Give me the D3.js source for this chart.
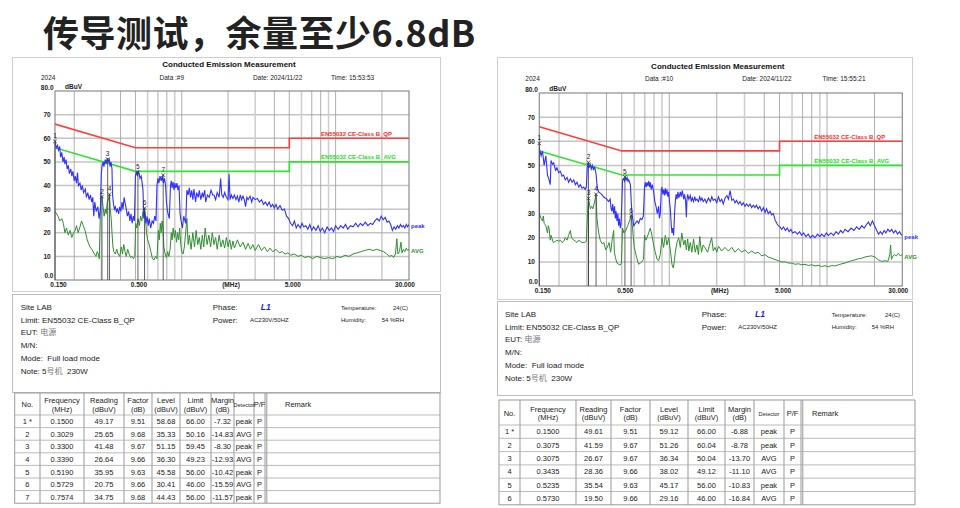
<!DOCTYPE html>
<html><head><meta charset="utf-8">
<script src="https://cdn.jsdelivr.net/npm/d3@7/dist/d3.min.js"></script>
<style>
body{margin:0;background:#fff;}
svg text{font-family:"Liberation Sans",Arial,sans-serif;white-space:pre;}
</style></head><body>
<svg id="chart" width="960" height="508"></svg>
<script>
// ---- data ----
const yTicks = [0, 10, 20, 30, 40, 50, 60, 70, 80];
const yTickLabels = ["0.0", "10", "20", "30", "40", "50", "60", "70", "80.0"];
const xTickFreqs = [0.15, 0.5, 2, 5, 30];
const xTickLabels = ["0.150", "0.500", "(MHz)", "5.000", "30.000"];

const limitQP = [[0.15, 66], [0.5, 56], [5, 56], [5, 60], [30, 60]];
const limitAVG = [[0.15, 56], [0.5, 46], [5, 46], [5, 50], [30, 50]];
const limitNames = ["EN55032 CE-Class B_QP", "EN55032 CE-Class B_AVG"];

const tableHead = [["No.", ""], ["Frequency", "(MHz)"], ["Reading", "(dBuV)"], ["Factor", "(dB)"],
  ["Level", "(dBuV)"], ["Limit", "(dBuV)"], ["Margin", "(dB)"], ["Detector", ""], ["P/F", ""]];

const leftRows = [
  ["1 *", "0.1500", "49.17", "9.51", "58.68", "66.00", "-7.32", "peak", "P"],
  ["2", "0.3029", "25.65", "9.68", "35.33", "50.16", "-14.83", "AVG", "P"],
  ["3", "0.3300", "41.48", "9.67", "51.15", "59.45", "-8.30", "peak", "P"],
  ["4", "0.3390", "26.64", "9.66", "36.30", "49.23", "-12.93", "AVG", "P"],
  ["5", "0.5190", "35.95", "9.63", "45.58", "56.00", "-10.42", "peak", "P"],
  ["6", "0.5729", "20.75", "9.66", "30.41", "46.00", "-15.59", "AVG", "P"],
  ["7", "0.7574", "34.75", "9.68", "44.43", "56.00", "-11.57", "peak", "P"]
];
const rightRows = [
  ["1 *", "0.1500", "49.61", "9.51", "59.12", "66.00", "-6.88", "peak", "P"],
  ["2", "0.3075", "41.59", "9.67", "51.26", "60.04", "-8.78", "peak", "P"],
  ["3", "0.3075", "26.67", "9.67", "36.34", "50.04", "-13.70", "AVG", "P"],
  ["4", "0.3435", "28.36", "9.66", "38.02", "49.12", "-11.10", "AVG", "P"],
  ["5", "0.5235", "35.54", "9.63", "45.17", "56.00", "-10.83", "peak", "P"],
  ["6", "0.5730", "19.50", "9.66", "29.16", "46.00", "-16.84", "AVG", "P"]
];

const infoLines = ["Site LAB", "Limit: EN55032 CE-Class B_QP", "EUT: 电源", "M/N:", "Mode:  Full load mode", "Note: 5号机  230W"];

const leftPeak = [[0.150,58.5],[0.153,56],[0.156,57],[0.158,55],[0.161,56.5],[0.163,52],[0.166,54],[0.169,50],[0.172,52],[0.174,49],
 [0.177,51],[0.180,47],[0.183,48.5],[0.186,45],[0.190,47],[0.193,44],[0.196,46],[0.200,42],[0.203,44],[0.207,41],[0.210,45.5],
 [0.213,40],[0.218,41],[0.222,38],[0.226,40],[0.230,37],[0.236,38.5],[0.240,35],[0.245,37],[0.250,34],[0.255,36],[0.260,33],
 [0.264,35],[0.268,27],[0.272,33],[0.278,29],[0.285,31],[0.290,26],[0.296,30],[0.300,45],[0.303,48],[0.308,50],[0.312,48],
 [0.318,51],[0.322,49],[0.328,51.5],[0.333,50],[0.338,51],[0.342,48],[0.347,50],[0.352,47],[0.355,36],[0.360,32],[0.365,30],
 [0.370,31],[0.376,29],[0.382,30],[0.389,28],[0.395,31],[0.402,29],[0.409,33],[0.415,30],[0.422,35],[0.430,32],[0.436,30],
 [0.443,27],[0.452,29],[0.460,25],[0.468,28],[0.476,24],[0.484,27],[0.492,25],[0.500,44],[0.507,46],[0.515,44],[0.521,46],
 [0.528,45],[0.535,43],[0.545,44],[0.553,41],[0.560,38],[0.566,26],[0.575,29],[0.585,24],[0.595,27],[0.605,23],[0.615,26],
 [0.628,22],[0.642,25],[0.655,24],[0.668,27],[0.680,25],[0.690,40],[0.700,43],[0.710,41],[0.722,44],[0.735,42],[0.747,44],
 [0.760,41],[0.772,43],[0.785,40],[0.795,33],[0.805,30],[0.815,28],[0.830,26],[0.845,40],[0.855,42],[0.865,39],[0.878,41.5],
 [0.890,38],[0.902,41],[0.915,39],[0.930,41],[0.945,38],[0.960,40],[0.975,28],[0.990,25],[1.01,22],[1.03,27],[1.06,24],
 [1.08,38],[1.10,36],[1.12,39],[1.14,35],[1.16,38],[1.18,34],[1.20,38.5],[1.23,33],[1.25,37],[1.28,35],[1.30,38],[1.33,34],
 [1.36,37],[1.38,35],[1.41,38],[1.43,33],[1.47,36],[1.51,35],[1.55,38],[1.59,36],[1.62,36],[1.66,34],[1.70,37],[1.75,35],
 [1.79,43],[1.82,36],[1.86,35],[1.90,37],[1.95,35],[2.00,34],[2.03,45],[2.06,34],[2.10,36],[2.15,34.5],[2.20,36],[2.25,34],
 [2.30,35.5],[2.35,33],[2.40,36],[2.45,34],[2.50,35.5],[2.55,34],[2.60,31],[2.65,35],[2.70,34],[2.78,35.5],[2.85,33],[2.90,35],
 [3.0,34],[3.1,34.5],[3.2,33],[3.3,34],[3.4,32],[3.5,33],[3.6,31.5],[3.7,33],[3.8,31],[3.9,32],[4.0,30.5],[4.1,32],[4.2,30],
 [4.35,31.5],[4.5,29.5],[4.65,30],[4.8,27],[4.95,26],[5.1,24],[5.25,23],[5.4,25],[5.55,22],[5.7,23.5],[5.9,22],[6.05,24],
 [6.2,22.5],[6.4,23],[6.6,21.5],[6.8,23.5],[7.0,21],[7.2,22.5],[7.45,21],[7.7,23],[7.95,20.5],[8.2,22],[8.5,20],[8.8,22.5],
 [9.1,21],[9.4,22],[9.7,20.5],[10.0,23],[10.4,21.5],[10.8,23],[11.2,22],[11.6,23.5],[12.0,21.5],[12.5,23],[13.0,22.5],[13.5,24],
 [14.0,22.5],[14.5,24],[15.0,23],[15.6,24.5],[16.2,23],[16.8,24],[17.4,23.5],[18.0,25],[18.6,26],[19.2,25],[19.8,27],[20.4,25.5],
 [21.0,26.5],[21.6,24.5],[22.2,25],[22.8,23.5],[23.4,21],[24.0,22.5],[24.6,21.5],[25.2,23],[25.8,22],[26.4,23.5],[27.0,22.5],
 [27.6,23],[28.2,22],[28.8,23.5],[29.4,22.5],[30.0,23.5]];

const leftAvg = [[0.150,29],[0.157,27],[0.161,25],[0.166,26],[0.170,24],[0.174,20],[0.178,22],[0.183,19],[0.188,21],[0.193,18],
 [0.198,20],[0.203,21],[0.207,23],[0.212,20],[0.217,22],[0.223,25],[0.229,23],[0.235,21],[0.243,17],[0.253,14],[0.260,13],
 [0.265,12],[0.271,11],[0.277,10],[0.282,12],[0.287,11],[0.291,9],[0.297,33],[0.300,35],[0.303,35.3],[0.308,31],[0.313,27],
 [0.318,30],[0.323,28],[0.328,33],[0.334,34],[0.339,36.3],[0.343,30],[0.348,26],[0.352,20],[0.357,14],[0.362,12],[0.370,11],
 [0.378,13],[0.386,11],[0.395,10],[0.405,14],[0.412,11],[0.420,15],[0.428,12],[0.436,10],[0.445,13],[0.455,11],[0.465,9.5],
 [0.475,10],[0.485,9],[0.495,10],[0.502,24],[0.510,22],[0.520,26],[0.530,23],[0.540,27],[0.550,25],[0.560,29],[0.567,27],
 [0.573,30.4],[0.580,27],[0.590,20],[0.600,17],[0.615,15],[0.630,12],[0.645,9],[0.660,8.5],[0.675,10],[0.690,9],[0.705,21],
 [0.715,17],[0.725,24],[0.735,20],[0.745,25],[0.755,22],[0.765,14],[0.780,11],[0.795,9.5],[0.810,12],[0.825,10],[0.840,13],
 [0.855,20],[0.865,17],[0.880,22],[0.895,18],[0.910,21],[0.925,16],[0.940,20],[0.955,17],[0.970,22],[0.985,15],[1.0,12],
 [1.02,11],[1.04,14],[1.06,20],[1.08,26],[1.10,15],[1.12,19],[1.15,13],[1.18,20],[1.21,14],[1.24,21],[1.27,15],[1.30,18],
 [1.33,13],[1.36,19],[1.39,14],[1.42,22],[1.46,15],[1.50,19],[1.54,14],[1.58,20],[1.62,15],[1.66,18],[1.70,13],[1.75,19],
 [1.80,14],[1.85,17],[1.90,13.5],[1.95,18],[2.0,14],[2.05,17],[2.1,13],[2.15,16.5],[2.2,13.5],[2.3,17],[2.4,14],[2.5,16],
 [2.6,13],[2.7,15.5],[2.8,13],[2.9,15],[3.0,12.5],[3.15,15],[3.3,12.5],[3.45,14],[3.6,12],[3.75,13.5],[3.9,12],[4.1,13],
 [4.3,11.5],[4.5,12],[4.7,11],[4.9,11.5],[5.1,10.5],[5.4,11],[5.7,10],[6.0,10.5],[6.3,9.5],[6.7,10],[7.1,9],[7.5,10],[8.0,9.5],
 [8.5,9],[9.0,9.5],[9.6,9],[10.2,10],[10.8,9.5],[11.5,10.5],[12.2,10],[13.0,11],[13.8,11.5],[14.6,12],[15.5,12.5],[16.5,13],
 [17.5,12.5],[18.5,13],[19.5,12.5],[20.5,12],[21.5,11],[22.5,10],[23.2,10.5],[23.8,9.5],[24.5,11],[25.0,17.5],[25.4,11],
 [26.0,12],[26.6,16],[27.0,11.5],[27.6,13],[28.2,12],[28.8,13.5],[29.4,12.5],[30.0,13]];

const rightPeak = [[0.150,57],[0.154,54],[0.157,56],[0.161,50],[0.165,54],[0.169,46],[0.173,44],[0.176,42],[0.178,52],[0.182,50.5],
 [0.185,51],[0.190,48],[0.194,49],[0.199,47],[0.204,47.5],[0.209,45.5],[0.214,46],[0.219,44],[0.225,45],[0.230,43],[0.236,44.5],
 [0.242,43],[0.248,44],[0.254,42],[0.260,43],[0.267,41],[0.273,42],[0.280,40.5],[0.287,41],[0.293,40],[0.298,41],[0.302,49],
 [0.306,51],[0.310,49],[0.315,50.5],[0.320,48.5],[0.325,50],[0.331,48],[0.335,49.5],[0.340,48],[0.344,46],[0.348,42],
 [0.352,40],[0.357,39],[0.365,38.5],[0.373,38],[0.383,37],[0.392,36.5],[0.402,36],[0.412,35],[0.422,36],[0.428,32],[0.433,31],
 [0.438,34],[0.444,30],[0.450,33],[0.455,28],[0.460,31],[0.466,27],[0.472,30],[0.477,25],[0.483,28],[0.489,24],[0.495,26],
 [0.501,36],[0.506,44],[0.513,44.5],[0.520,43.5],[0.526,45],[0.533,44],[0.540,45],[0.547,43.5],[0.553,44],[0.560,43],
 [0.567,42],[0.574,35],[0.580,30],[0.586,28],[0.595,25],[0.610,26],[0.625,27],[0.640,26],[0.655,28],[0.670,27.5],[0.685,29],
 [0.697,41],[0.705,43],[0.714,41],[0.722,43],[0.731,41.5],[0.740,43.5],[0.750,41],[0.758,43],[0.768,40],[0.780,42],[0.796,39],
 [0.810,35],[0.824,33],[0.840,30],[0.856,33],[0.866,28],[0.877,30],[0.890,40],[0.899,41],[0.910,38],[0.922,40],[0.933,37.5],
 [0.944,40.5],[0.955,38],[0.967,40],[0.980,37],[0.991,39],[1.003,35],[1.015,32],[1.03,25],[1.04,22],[1.05,24],[1.066,21],
 [1.08,30],[1.092,35],[1.105,38],[1.119,36],[1.135,39],[1.15,36.5],[1.175,39],[1.19,37],[1.21,39.5],[1.234,36],[1.25,38],
 [1.27,35],[1.283,28.5],[1.295,36],[1.308,38],[1.33,36],[1.359,37.5],[1.38,35],[1.40,36.5],[1.426,35],[1.45,37],[1.47,35.5],
 [1.498,36],[1.53,35],[1.56,37],[1.585,35.5],[1.61,36.5],[1.64,35],[1.68,36],[1.72,34.5],[1.77,36.5],[1.82,35],[1.86,37],
 [1.90,35.5],[1.95,36],[2.0,34.5],[2.05,37],[2.1,35],[2.15,36],[2.2,34],[2.26,36.5],[2.32,37.5],[2.37,36],[2.43,39.5],
 [2.49,35.5],[2.55,36],[2.61,34.5],[2.67,35.5],[2.74,34],[2.81,35],[2.88,33.5],[2.95,34.5],[3.02,33],[3.09,34],[3.17,33],
 [3.25,34],[3.33,32.5],[3.41,33.5],[3.49,32.5],[3.57,33.5],[3.66,32],[3.75,33],[3.85,31],[3.95,32.5],[4.05,30.5],[4.14,32],
 [4.24,30],[4.35,31],[4.46,29.5],[4.57,30],[4.68,27.5],[4.8,26],[4.91,25],[5.03,24.5],[5.16,23.5],[5.3,24.5],[5.45,23],
 [5.6,24],[5.75,22.5],[5.9,23.5],[6.05,22],[6.27,22.5],[6.5,21.5],[6.7,22.5],[6.9,21],[7.1,22],[7.35,20.5],[7.6,21.5],
 [7.85,20],[8.1,21],[8.39,20],[8.7,21.5],[9.0,20.5],[9.25,21.5],[9.6,20.5],[9.9,22],[10.2,21],[10.6,22],[11.0,21],[11.4,22.5],
 [11.8,21.5],[12.2,23],[12.6,22],[13.0,23.5],[13.6,22.5],[14.2,24],[14.8,23],[15.4,24.5],[16.0,23.5],[16.6,25],[17.2,24],
 [17.8,25.5],[18.3,26.5],[18.8,25],[19.4,27],[20.0,25],[20.5,23.5],[21.2,21.5],[21.8,22.5],[22.4,21.5],[23.0,23],[23.6,22],
 [24.3,23.5],[25.0,22.5],[25.7,23.5],[26.4,22],[27.2,23],[28.0,21.5],[28.8,22.5],[29.4,21.5],[30.0,21]];

const rightAvg = [[0.150,30],[0.154,28],[0.157,27],[0.159,29],[0.161,26],[0.165,25],[0.169,22],[0.171,25],[0.173,24],[0.176,19],
 [0.178,21],[0.184,18],[0.190,18.5],[0.194,19],[0.199,18.5],[0.204,19],[0.209,18],[0.214,18.5],[0.219,20],[0.225,19],
 [0.230,21],[0.236,23],[0.240,20],[0.248,19],[0.255,18.5],[0.260,18],[0.267,19],[0.273,18.5],[0.280,18],[0.290,18],
 [0.298,18.5],[0.303,30],[0.3075,36.3],[0.312,34],[0.316,32],[0.322,33],[0.328,32],[0.334,34],[0.3435,38],[0.348,28],
 [0.357,22],[0.365,19],[0.375,17.5],[0.385,18],[0.395,15],[0.405,16],[0.415,18],[0.425,14],[0.434,19],[0.444,23],[0.449,14],
 [0.455,12],[0.466,9.5],[0.478,9],[0.489,8.7],[0.497,9.5],[0.506,24],[0.515,22],[0.530,23],[0.545,25],[0.560,27],[0.573,29.2],
 [0.585,24],[0.600,16],[0.620,12],[0.639,9],[0.655,9.5],[0.670,10],[0.686,11],[0.697,21],[0.710,19],[0.722,20],[0.740,22],
 [0.758,24],[0.776,21],[0.796,17],[0.815,14],[0.837,11],[0.856,10.5],[0.877,13],[0.899,20],[0.920,16],[0.944,21],[0.967,17],
 [0.991,20],[1.015,15],[1.04,9],[1.06,7.5],[1.075,10],[1.092,14],[1.119,18],[1.147,20],[1.175,16],[1.20,22],[1.234,17],
 [1.26,19],[1.283,15],[1.308,19.5],[1.33,14.5],[1.359,18],[1.39,14],[1.426,19.5],[1.46,14],[1.498,17],[1.53,13],[1.56,20.5],
 [1.60,14],[1.64,17],[1.68,16],[1.75,14],[1.80,17],[1.857,20],[1.90,14.5],[1.95,16],[2.0,14],[2.05,16.5],[2.15,14.5],
 [2.25,16],[2.37,14.5],[2.49,16],[2.61,14],[2.74,15.5],[2.88,14],[3.02,15],[3.17,13.5],[3.33,14.5],[3.49,13.5],[3.66,14],
 [3.85,12.5],[4.05,13],[4.24,12],[4.46,11.5],[4.68,11],[4.91,10.5],[5.16,10],[5.45,10],[5.69,9.5],[6.0,9.5],[6.27,9],
 [6.6,9.2],[6.9,8.8],[7.25,9],[7.6,8.5],[8.0,8.8],[8.39,8.3],[8.8,8.6],[9.25,8.1],[9.7,8.4],[10.2,8],[10.7,8.5],[11.2,8.3],
 [11.8,8.8],[12.4,9.2],[13.0,9.5],[13.6,10],[14.3,10.5],[15.0,10.8],[15.8,11.3],[16.6,11.5],[17.4,12],[18.3,12.3],[19.2,12.5],
 [20.1,12],[21.2,10.8],[22.2,10.2],[23.3,10.5],[24.3,10.2],[25.0,13],[25.3,17],[25.6,11],[26.2,12.5],[26.8,13],[27.5,12.5],
 [28.3,13.5],[29.1,12.5],[30.0,13]];

// ---- layout ----
const panels = [
  { frame: [12.5, 57.5, 428, 234], info: [12.5, 294.5, 428, 98], plot: [55, 91, 409, 280],
    headerY: 64, subY: 77, dataLabel: "Data :#9", time: "Time: 15:53:53",
    peak: leftPeak, avg: leftAvg, rows: leftRows,
    infoPos: { x: 20.7, y: 309.7, dy: 12.8, phaseX: 212.7, l1X: 260.7, powX: 250, tempX: 341, tempValX: 393, humValX: 381.7 },
    table: { top: 393, headBot: 415, rowH: 12.6, cols: [14.7, 40, 84, 124, 152, 180, 211, 234, 254, 265, 440], remarkX: 285 } },
  { frame: [497.5, 57.5, 415, 242], info: [497.5, 301.5, 415, 94], plot: [539.3, 93, 902.3, 286],
    headerY: 66, subY: 78, dataLabel: "Data :#10", time: "Time: 15:55:21",
    peak: rightPeak, avg: rightAvg, rows: rightRows,
    infoPos: { x: 505, y: 317, dy: 12.7, phaseX: 701.7, l1X: 755, powX: 738.3, tempX: 831.7, tempValX: 885, humValX: 871.7 },
    table: { top: 400, headBot: 425, rowH: 13.3, cols: [499, 520, 576, 611, 650, 688, 725, 754, 784, 801, 915], remarkX: 812 } }
];

const svg = d3.select("#chart");

svg.append("text").attr("x", 43).attr("y", 47)
  .attr("font-weight", "bold").attr("font-size", 36).attr("letter-spacing", 0.5).attr("fill", "#222")
  .style("font-family", '"Noto Sans CJK SC"')
  .text("传导测试，余量至少6.8dB");

function cjkText(sel, str) {
  // grey CJK parts like the source report
  str.split(/([\u4e00-\u9fff]+)/).forEach(function(part) {
    if (!part) return;
    const t = sel.append("tspan").text(part);
    if (/[\u4e00-\u9fff]/.test(part)) t.attr("fill", "#777").style("font-family", '"Noto Sans CJK SC"');
  });
}

panels.forEach(function(p, pi) {
  const g = svg.append("g");
  const [x0, y0, x1, y1] = p.plot;
  const x = d3.scaleLog().domain([0.15, 30]).range([x0, x1]);
  const y = d3.scaleLinear().domain([0, 80]).range([y1, y0]);

  g.append("rect").attr("x", p.frame[0]).attr("y", p.frame[1]).attr("width", p.frame[2]).attr("height", p.frame[3])
    .attr("fill", "none").attr("stroke", "#cfcfcf");
  g.append("rect").attr("x", p.info[0]).attr("y", p.info[1]).attr("width", p.info[2]).attr("height", p.info[3])
    .attr("fill", "none").attr("stroke", "#bdbdbd");

  // header
  g.append("text").attr("x", (x0 + x1) / 2 - 3).attr("y", p.headerY + 3).attr("text-anchor", "middle")
    .attr("font-size", 8).attr("font-weight", "bold").attr("fill", "#111").text("Conducted Emission Measurement");
  const w = x1 - x0;
  const sub = [[x0 - 14, "2024", "start"], [x0 + 0.33 * w, p.dataLabel, "middle"],
               [x0 + 0.559 * w, "Date: 2024/11/22", "start"], [x0 + 0.78 * w, p.time, "start"]];
  g.selectAll(".sub").data(sub).join("text").attr("x", d => d[0]).attr("y", p.subY + 2.5)
    .attr("text-anchor", d => d[2]).attr("font-size", 6.5).attr("fill", "#222").text(d => d[1]);

  // grid
  g.selectAll(".hg").data(yTicks.slice(1, -1)).join("line")
    .attr("x1", x0).attr("x2", x1).attr("y1", d => y(d)).attr("y2", d => y(d))
    .attr("stroke", "#c4c4c4").attr("stroke-width", 1.5);
  g.selectAll(".vg").data(x.ticks().filter(f => f > 0.15 && f < 30)).join("line")
    .attr("x1", d => x(d)).attr("x2", d => x(d)).attr("y1", y0).attr("y2", y1)
    .attr("stroke", (d, i) => i % 3 === 1 ? "#cfcfcf" : "#9a9a9a").attr("stroke-width", (d, i) => i % 3 === 1 ? 1.6 : 0.8);
  g.append("rect").attr("x", x0).attr("y", y0).attr("width", w).attr("height", y1 - y0)
    .attr("fill", "none").attr("stroke", "#8c8c8c").attr("stroke-width", 1.2);

  // axis labels
  g.selectAll(".yl").data(yTicks).join("text")
    .attr("x", (d, i) => (i === 0 || i === yTicks.length - 1) ? x0 - 1.5 : x0 - 8)
    .attr("y", (d, i) => y(d) + (i === 0 ? -2.5 : i === yTicks.length - 1 ? -1.5 : 2.5))
    .attr("text-anchor", (d, i) => (i === 0 || i === yTicks.length - 1) ? "end" : "middle")
    .attr("font-size", 6.5).attr("font-weight", "bold").attr("fill", "#222").text((d, i) => yTickLabels[i]);
  g.append("text").attr("x", x0 + 10).attr("y", y0 - 2).attr("font-size", 6.5).attr("font-weight", "bold")
    .attr("fill", "#222").text("dBuV");
  const dxs = [3.5, 3.5, 3, 3.5, -4];
  g.selectAll(".xl").data(xTickFreqs).join("text").attr("x", (d, i) => x(d) + dxs[i]).attr("y", y1 + 6.5)
    .attr("text-anchor", "middle").attr("font-size", 6.5).attr("font-weight", "bold").attr("fill", "#222")
    .text((d, i) => xTickLabels[i]);

  // clip
  const cid = "clip" + pi;
  svg.append("clipPath").attr("id", cid).append("rect").attr("x", x0).attr("y", y0).attr("width", w).attr("height", y1 - y0);
  const line = d3.line().x(d => x(d[0])).y(d => y(d[1]));
  const plotG = g.append("g").attr("clip-path", "url(#" + cid + ")");

  // limits
  plotG.append("path").attr("d", line(limitQP)).attr("fill", "none").attr("stroke", "#ff3d3d").attr("stroke-width", 1.6);
  plotG.append("path").attr("d", line(limitAVG)).attr("fill", "none").attr("stroke", "#2ee62e").attr("stroke-width", 1.6);
  g.append("text").attr("x", x1 - 17).attr("y", y(60) - 2.5).attr("text-anchor", "end").attr("font-size", 6)
    .attr("font-weight", "bold").attr("fill", "#ff2a2a").text(limitNames[0]);
  g.append("text").attr("x", x1 - 13).attr("y", y(50) - 2.5).attr("text-anchor", "end").attr("font-size", 6)
    .attr("font-weight", "bold").attr("fill", "#22dd22").text(limitNames[1]);

  // traces
  plotG.append("path").attr("d", line(p.avg)).attr("fill", "none").attr("stroke", "#2f8f2f").attr("stroke-width", 1);
  plotG.append("path").attr("d", line(p.peak)).attr("fill", "none").attr("stroke", "#3030ff").attr("stroke-width", 1.1);
  g.append("text").attr("x", x1 + 2).attr("y", y(p.peak[p.peak.length - 1][1]) + 4).attr("font-size", 6)
    .attr("font-weight", "bold").attr("fill", "#3030ff").text("peak");
  g.append("text").attr("x", x1 + 2).attr("y", y(p.avg[p.avg.length - 1][1]) + 4).attr("font-size", 6)
    .attr("font-weight", "bold").attr("fill", "#2f8f2f").text("AVG");

  // markers
  const marks = p.rows.map(r => ({ no: r[0].replace(/\D/g, ""), f: +r[1], v: +r[4] }));
  g.selectAll(".ml").data(marks).join("line")
    .attr("x1", d => x(d.f)).attr("x2", d => x(d.f)).attr("y1", d => y(d.v)).attr("y2", y1)
    .attr("stroke", "#3a3a3a").attr("stroke-width", 0.8);
  const mg = g.selectAll(".mk").data(marks).join("g").attr("transform", d => `translate(${x(d.f)},${y(d.v)})`);
  mg.append("path").attr("d", "M-1.8,-1.8L1.8,1.8M-1.8,1.8L1.8,-1.8").attr("stroke", "#333").attr("stroke-width", 0.8);
  mg.append("text").attr("y", -3).attr("text-anchor", "middle").attr("font-size", 6.5).attr("fill", "#222").text(d => d.no);

  // info block
  const ip = p.infoPos;
  infoLines.forEach(function(s, i) {
    const t = g.append("text").attr("x", ip.x).attr("y", ip.y + i * ip.dy).attr("font-size", 8).attr("fill", "#222");
    cjkText(t, s);
  });
  g.append("text").attr("x", ip.phaseX).attr("y", ip.y).attr("font-size", 8).attr("fill", "#222").text("Phase:");
  g.append("text").attr("x", ip.l1X).attr("y", ip.y).attr("font-size", 8.5).attr("font-weight", "bold")
    .attr("font-style", "italic").attr("fill", "#1a1aee").text("L1");
  g.append("text").attr("x", ip.phaseX).attr("y", ip.y + ip.dy).attr("font-size", 8).attr("fill", "#222").text("Power:");
  g.append("text").attr("x", ip.powX).attr("y", ip.y + ip.dy - 1).attr("font-size", 6).attr("fill", "#222").text("AC230V/50HZ");
  g.append("text").attr("x", ip.tempX).attr("y", ip.y).attr("font-size", 6).attr("fill", "#222").text("Temperature:");
  g.append("text").attr("x", ip.tempValX).attr("y", ip.y).attr("font-size", 6).attr("fill", "#222").text("24(C)");
  g.append("text").attr("x", ip.tempX).attr("y", ip.y + ip.dy - 1).attr("font-size", 6).attr("fill", "#222").text("Humidity:");
  g.append("text").attr("x", ip.humValX).attr("y", ip.y + ip.dy - 1).attr("font-size", 6).attr("fill", "#222").text("54 %RH");

  // table
  const tb = p.table, cols = tb.cols;
  const bottom = tb.headBot + tb.rowH * p.rows.length;
  const tg = g.append("g");
  tg.append("rect").attr("x", cols[0]).attr("y", tb.top).attr("width", cols[cols.length - 1] - cols[0])
    .attr("height", bottom - tb.top).attr("fill", "none").attr("stroke", "#999");
  tg.selectAll(".vc").data(cols.slice(1, -1)).join("line")
    .attr("x1", d => d).attr("x2", d => d).attr("y1", tb.top).attr("y2", bottom).attr("stroke", "#999");
  tg.append("line").attr("x1", cols[9] + 1.8).attr("x2", cols[9] + 1.8).attr("y1", tb.top).attr("y2", bottom).attr("stroke", "#999");
  tg.selectAll(".hr").data(d3.range(p.rows.length)).join("line")
    .attr("x1", cols[0]).attr("x2", cols[cols.length - 1])
    .attr("y1", i => tb.headBot + i * tb.rowH).attr("y2", i => tb.headBot + i * tb.rowH)
    .attr("stroke", "#aaa").attr("stroke-width", 0.8);
  const hMid = (tb.top + tb.headBot) / 2;
  tableHead.forEach(function(h, j) {
    const cx = (cols[j] + cols[j + 1]) / 2;
    const small = h[0] === "Detector";
    if (h[1]) {
      tg.append("text").attr("x", cx).attr("y", hMid - 1).attr("text-anchor", "middle").attr("font-size", 7.5).attr("fill", "#222").text(h[0]);
      tg.append("text").attr("x", cx).attr("y", hMid + 7.5).attr("text-anchor", "middle").attr("font-size", 7.5).attr("fill", "#222").text(h[1]);
    } else {
      tg.append("text").attr("x", cx).attr("y", hMid + 3).attr("text-anchor", "middle")
        .attr("font-size", small ? 5.5 : 7.5).attr("fill", "#222").text(h[0]);
    }
  });
  tg.append("text").attr("x", tb.remarkX).attr("y", hMid + 3).attr("font-size", 7.5).attr("fill", "#222").text("Remark");
  p.rows.forEach(function(r, i) {
    const cy = tb.headBot + (i + 0.5) * tb.rowH + 2.8;
    r.forEach(function(v, j) {
      tg.append("text").attr("x", (cols[j] + cols[j + 1]) / 2).attr("y", cy).attr("text-anchor", "middle")
        .attr("font-size", 7.5).attr("fill", "#222").text(v);
    });
  });
});
</script>
</body></html>
